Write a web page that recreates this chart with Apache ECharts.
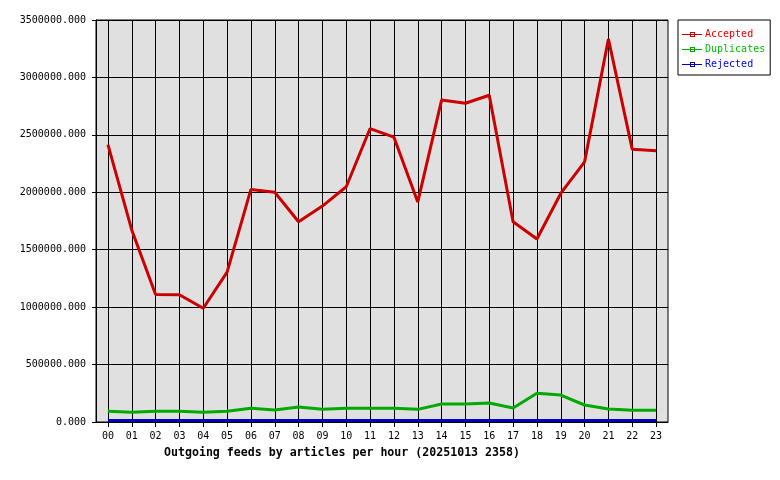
<!DOCTYPE html>
<html>
<head>
<meta charset="utf-8">
<script src="https://cdn.jsdelivr.net/npm/echarts@6/dist/echarts.min.js"></script>
<style>html,body{margin:0;padding:0;background:#fff}#c{width:780px;height:480px}</style>
</head>
<body>
<div id="c"></div>
<script>
const hours = ['00','01','02','03','04','05','06','07','08','09','10','11','12','13','14','15','16','17','18','19','20','21','22','23'];
const accepted = [2415000,1672000,1110000,1108000,990000,1305000,2025000,2000000,1744000,1880000,2048000,2555000,2480000,1915000,2803000,2775000,2845000,1744000,1593000,1990000,2265000,3335000,2374000,2362000];
const duplicates = [93000,84000,93000,93000,84000,93000,119000,104000,131000,110000,119000,119000,119000,110000,157000,157000,165000,122000,250000,235000,148000,113000,102000,102000];
const rejected = [12000,12000,12000,12000,12000,12000,12000,12000,12000,12000,12000,12000,12000,12000,12000,12000,12000,12000,12000,12000,12000,12000,12000,12000];
const yTicks = {min: 0, max: 3500000, interval: 500000};
const titleText = 'Outgoing feeds by articles per hour (20251013 2358)';

const mono = 'DejaVu Sans Mono';
const iconPath = 'path://M0,2h20v1h-20z M8,0h5v1h-5z M8,4h5v1h-5z M8,0h1v5h-1z M12,0h1v5h-1z';
const G = {left: 96, top: 20, right: 112, bottom: 58};
const W = 780 - G.left - G.right;
const half = W / hours.length / 2;
const chart = echarts.init(document.getElementById('c'), null, {renderer: 'canvas'});
chart.setOption({
  animation: false,
  backgroundColor: '#ffffff',
  title: {
    text: titleText, left: 164, top: 447, padding: 0,
    textStyle: {fontFamily: mono, fontSize: 11.6, fontWeight: 'bold', color: '#000'}
  },
  legend: {
    orient: 'vertical', left: 678, top: 20, width: 92,
    padding: [9, 5, 5, 4], itemGap: 4,
    borderColor: '#000', borderWidth: 1, backgroundColor: '#fff',
    itemWidth: 20, itemHeight: 5, icon: iconPath,
    textStyle: {fontFamily: mono, fontSize: 10, padding: [0, 0, 0, -2], lineHeight: 11},
    data: [
      {name: 'Accepted', textStyle: {color: '#ee0000'}},
      {name: 'Duplicates', textStyle: {color: '#00bb00'}},
      {name: 'Rejected', textStyle: {color: '#0000ee'}}
    ]
  },
  grid: [
    {left: G.left, top: G.top, right: G.right, bottom: G.bottom,
      show: true, backgroundColor: '#e0e0e0', borderColor: '#000', borderWidth: 1},
    {left: G.left + half, top: G.top, right: G.right + half, bottom: G.bottom, show: false}
  ],
  xAxis: [
    {
      type: 'category', data: hours, boundaryGap: true, gridIndex: 0,
      axisLine: {lineStyle: {color: '#000', width: 1}},
      axisTick: {show: false},
      axisLabel: {fontFamily: mono, fontSize: 10, color: '#000', margin: 9},
      splitLine: {show: false}
    },
    {
      type: 'category', data: hours, boundaryGap: false, gridIndex: 1,
      axisLine: {show: false},
      axisTick: {show: true, length: 5, lineStyle: {color: '#000'}},
      axisLabel: {show: false},
      splitLine: {show: true, lineStyle: {color: '#000', width: 1}}
    }
  ],
  yAxis: [
    {
      type: 'value', min: yTicks.min, max: yTicks.max, interval: yTicks.interval, gridIndex: 0,
      axisLine: {show: true, lineStyle: {color: '#000'}},
      axisTick: {show: true, length: 4, lineStyle: {color: '#000'}},
      axisLabel: {fontFamily: mono, fontSize: 10, color: '#000', margin: 10,
        formatter: v => v.toFixed(3)},
      splitLine: {show: true, lineStyle: {color: '#000', width: 1}}
    },
    {
      type: 'value', min: yTicks.min, max: yTicks.max, interval: yTicks.interval, gridIndex: 1,
      show: false
    }
  ],
  series: [
    {name: 'Accepted', type: 'line', data: accepted, symbol: 'none', color: '#cc0000',
      lineStyle: {width: 3, color: '#cc0000'}, z: 5},
    {name: 'Duplicates', type: 'line', data: duplicates, symbol: 'none', color: '#00aa00',
      lineStyle: {width: 3, color: '#00aa00'}, z: 5},
    {name: 'Rejected', type: 'line', data: rejected, symbol: 'none', color: '#0000bb',
      lineStyle: {width: 3, color: '#0000bb'}, z: 5}
  ]
});
</script>
</body>
</html>
